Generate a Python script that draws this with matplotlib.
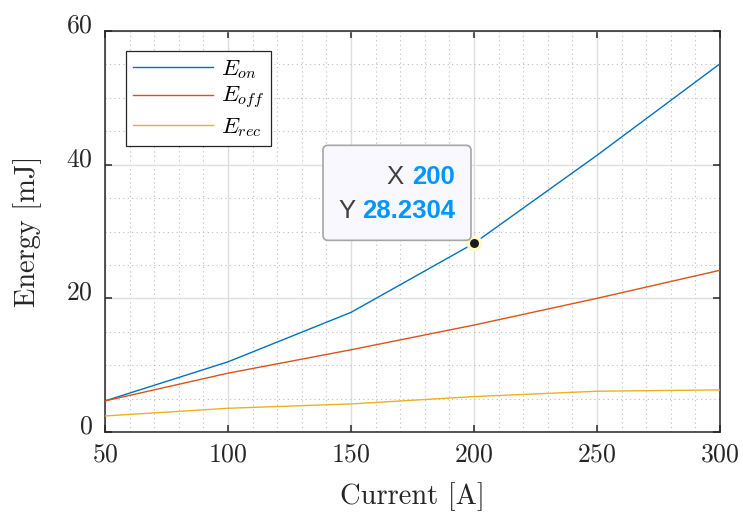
import numpy as np
import matplotlib
matplotlib.use("Agg")
import matplotlib.pyplot as plt
import matplotlib.transforms as mtransforms
from matplotlib.patches import FancyBboxPatch
from matplotlib.ticker import MultipleLocator

plt.rcParams["font.family"] = "cmr10"
plt.rcParams["mathtext.fontset"] = "cm"
plt.rcParams["axes.formatter.use_mathtext"] = True

# data
current = [50, 100, 150, 200, 250, 300]
e_on    = [4.65, 10.5, 17.9, 28.2304, 41.4, 55.1]
e_off   = [4.65, 8.8, 12.3, 16.0, 20.0, 24.2]
e_rec   = [2.4, 3.55, 4.2, 5.3, 6.1, 6.3]
labels  = [r"$E_{on}$", r"$E_{off}$", r"$E_{rec}$"]
colors  = ["#0072BD", "#D95319", "#EDB120"]
x_ticks = [50, 100, 150, 200, 250, 300]
y_ticks = [0, 20, 40, 60]
tip_idx = 3

fig = plt.figure(figsize=(7.43, 5.15), dpi=100)
ax = fig.add_axes([105 / 743, 1 - 432 / 515, 615 / 743, 401 / 515])

for ys, lab, col in zip([e_on, e_off, e_rec], labels, colors):
    ax.plot(current, ys, color=col, linewidth=1.0, label=lab, zorder=3)

ax.set_xlim(50, 300)
ax.set_ylim(0, 60)
ax.set_xticks(x_ticks)
ax.set_yticks(y_ticks)
ax.xaxis.set_minor_locator(MultipleLocator(10))
ax.yaxis.set_minor_locator(MultipleLocator(5))

ax.grid(which="major", color="#dedede", linewidth=1.0, linestyle="-", zorder=0)
ax.grid(which="minor", color="#bdbdbd", linewidth=0.8, linestyle=(0, (1, 3)), zorder=0)
ax.set_axisbelow(True)

ax.tick_params(which="major", direction="in", length=5, width=1.1, color="#262626",
               top=True, right=True, labelsize=18.5, labelcolor="#262626")
ax.tick_params(which="minor", length=0)
ax.tick_params(axis="y", pad=9)
ax.tick_params(axis="x", pad=8)
for sp in ax.spines.values():
    sp.set_color("#262626")
    sp.set_linewidth(1.1)

# MATLAB-style y tick labels sit a little above their ticks
shift = mtransforms.ScaledTranslation(0, 8 / 100, fig.dpi_scale_trans)
for lbl in ax.get_yticklabels():
    lbl.set_transform(lbl.get_transform() + shift)

ax.set_xlabel("Current [A]", fontsize=20.5, color="#262626", labelpad=11)
ax.set_ylabel("Energy [mJ]", fontsize=20.5, color="#262626", labelpad=17)

leg = ax.legend(loc="upper left", bbox_to_anchor=(21 / 615, 1 - 20 / 401),
                fontsize=16.5, frameon=True, fancybox=False, handlelength=3.5,
                borderpad=0.3, labelspacing=0.2, handletextpad=0.35,
                borderaxespad=0)
leg.get_frame().set_edgecolor("#262626")
leg.get_frame().set_linewidth(0.9)
leg.get_frame().set_facecolor("white")
leg.get_frame().set_alpha(1)

# data tip
tx, ty = current[tip_idx], e_on[tip_idx]
ax.plot([tx], [ty], marker="o", markersize=9, color="#1a1a1a",
        markeredgecolor="#fff8c8", markeredgewidth=2.5, zorder=6, clip_on=False)
fig.canvas.draw()
px, py = ax.transData.transform((tx, ty))
tip_tr = mtransforms.Affine2D().translate(px, py)
box = FancyBboxPatch((-151, 3), 148, 95, boxstyle="round,pad=0,rounding_size=5",
                     transform=tip_tr, facecolor="#f8f8fe", edgecolor="#a6a6a6",
                     linewidth=1.2, zorder=5, clip_on=False)
fig.add_artist(box)

tip_font = dict(family="Liberation Sans", fontsize=18.5, va="center", zorder=7)
fig.text(px - 70, py + 66, "X", transform=None, ha="right", color="#404040", **tip_font)
fig.text(px - 19, py + 66, f"{tx:g}", transform=None, ha="right", color="#0096ff",
         fontweight="bold", **tip_font)
fig.text(px - 118, py + 32, "Y", transform=None, ha="right", color="#404040", **tip_font)
fig.text(px - 19, py + 32, f"{ty:.4f}", transform=None, ha="right", color="#0096ff",
         fontweight="bold", **tip_font)

fig.savefig("out.png", dpi=100)
